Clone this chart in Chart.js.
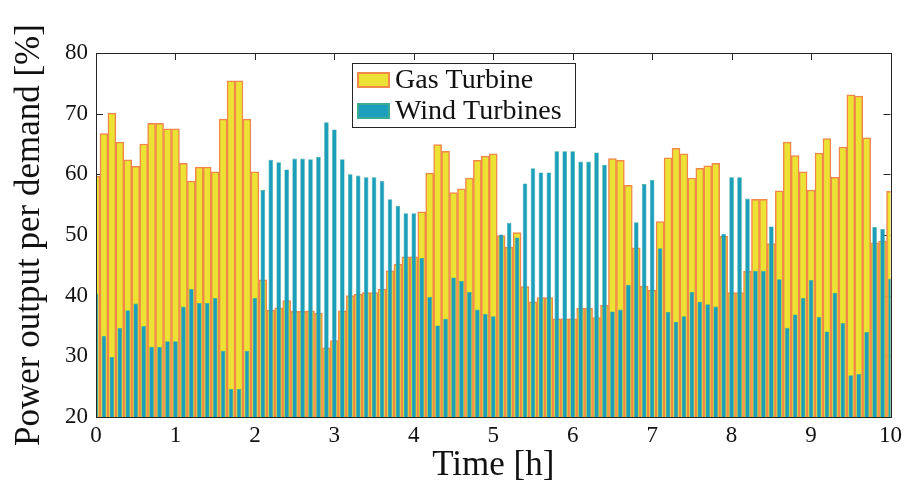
<!DOCTYPE html>
<html>
<head>
<meta charset="utf-8">
<script src="https://cdn.jsdelivr.net/npm/chart.js@4.4.1/dist/chart.umd.min.js"></script>
<style>
  html, body { margin: 0; padding: 0; background: #fff; }
  canvas { display: block; }
</style>
</head>
<body>
<canvas id="chart" width="907" height="493"></canvas>
<script>
// time steps [h]
var times = [
  0.0, 0.1, 0.2, 0.3, 0.4, 0.5, 0.6, 0.7, 0.8, 0.9,
  1.0, 1.1, 1.2, 1.3, 1.4, 1.5, 1.6, 1.7, 1.8, 1.9,
  2.0, 2.1, 2.2, 2.3, 2.4, 2.5, 2.6, 2.7, 2.8, 2.9,
  3.0, 3.1, 3.2, 3.3, 3.4, 3.5, 3.6, 3.7, 3.8, 3.9,
  4.0, 4.1, 4.2, 4.3, 4.4, 4.5, 4.6, 4.7, 4.8, 4.9,
  5.0, 5.1, 5.2, 5.3, 5.4, 5.5, 5.6, 5.7, 5.8, 5.9,
  6.0, 6.1, 6.2, 6.3, 6.4, 6.5, 6.6, 6.7, 6.8, 6.9,
  7.0, 7.1, 7.2, 7.3, 7.4, 7.5, 7.6, 7.7, 7.8, 7.9,
  8.0, 8.1, 8.2, 8.3, 8.4, 8.5, 8.6, 8.7, 8.8, 8.9,
  9.0, 9.1, 9.2, 9.3, 9.4, 9.5, 9.6, 9.7, 9.8, 9.9,
  10.0
];

// gas turbine output [% of demand]
var gasOutput = [
  59.7, 66.7, 70.1, 65.3, 62.4, 61.3, 65.0, 68.4, 68.4, 67.5,
  67.5, 61.8, 58.9, 61.2, 61.2, 60.4, 69.1, 75.4, 75.4, 69.1,
  60.4, 42.6, 37.6, 38.0, 39.2, 37.4, 37.4, 37.5, 37.1, 31.4,
  32.6, 37.5, 40.0, 40.2, 40.5, 40.5, 41.1, 44.1, 45.2, 46.4,
  46.4, 53.8, 60.2, 64.9, 63.8, 57.0, 57.6, 59.4, 62.3, 63.0,
  63.4, 49.9, 48.0, 50.4, 41.5, 39.0, 39.7, 39.7, 36.2, 36.2,
  36.2, 37.9, 37.9, 36.4, 38.4, 62.6, 62.3, 58.2, 47.9, 41.6,
  40.9, 52.2, 62.7, 64.3, 63.4, 59.4, 61.0, 61.4, 61.8, 49.8,
  40.5, 40.5, 44.0, 55.9, 55.9, 48.6, 57.3, 65.3, 63.1, 60.4,
  57.4, 63.5, 65.9, 59.5, 64.5, 73.1, 72.9, 66.0, 48.7, 49.0,
  57.2
];

// wind turbines output [% of demand]
var windOutput = [
  40.3, 33.4, 29.9, 34.7, 37.6, 38.7, 35.0, 31.6, 31.6, 32.5,
  32.5, 38.2, 41.1, 38.8, 38.8, 39.6, 30.9, 24.6, 24.6, 30.9,
  39.6, 57.4, 62.4, 62.0, 60.8, 62.6, 62.6, 62.5, 62.9, 68.6,
  67.4, 62.5, 60.0, 59.8, 59.5, 59.5, 58.9, 55.9, 54.8, 53.6,
  53.6, 46.2, 39.8, 35.1, 36.2, 43.0, 42.4, 40.6, 37.7, 37.0,
  36.6, 50.1, 52.0, 49.6, 58.5, 61.0, 60.3, 60.3, 63.8, 63.8,
  63.8, 62.1, 62.1, 63.6, 61.6, 37.4, 37.7, 41.8, 52.1, 58.4,
  59.1, 47.8, 37.3, 35.7, 36.6, 40.6, 39.0, 38.6, 38.2, 50.2,
  59.5, 59.5, 56.0, 44.1, 44.1, 51.4, 42.7, 34.7, 36.9, 39.6,
  42.6, 36.5, 34.1, 40.5, 35.5, 26.9, 27.1, 34.0, 51.3, 51.0,
  42.8
];

var xTicks = [0, 1, 2, 3, 4, 5, 6, 7, 8, 9, 10];
var yTicks = [20, 30, 40, 50, 60, 70, 80];

var serif = '"Liberation Serif", "DejaVu Serif", serif';
var axisColor = '#262626';

function points(values) {
  return times.map(function (t, i) { return { x: t, y: values[i] }; });
}

// MATLAB style box with inward ticks
var frame = {
  id: 'frame',
  beforeDatasetsDraw: function (chart) {
    var ctx = chart.ctx, a = chart.chartArea;
    var x = chart.scales.x, y = chart.scales.y;
    ctx.save();
    ctx.strokeStyle = axisColor;
    ctx.lineWidth = 1;
    ctx.beginPath();
    xTicks.forEach(function (v) {
      var px = Math.round(x.getPixelForValue(v)) + 0.5;
      ctx.moveTo(px, a.bottom); ctx.lineTo(px, a.bottom - 7);
      ctx.moveTo(px, a.top); ctx.lineTo(px, a.top + 7);
    });
    yTicks.forEach(function (v) {
      var py = Math.round(y.getPixelForValue(v)) + 0.5;
      ctx.moveTo(a.left, py); ctx.lineTo(a.left + 7, py);
      ctx.moveTo(a.right, py); ctx.lineTo(a.right - 7, py);
    });
    ctx.stroke();
    ctx.restore();
  },
  afterDatasetsDraw: function (chart) {
    var ctx = chart.ctx, a = chart.chartArea;
    ctx.save();
    ctx.strokeStyle = axisColor;
    ctx.lineWidth = 1;
    ctx.strokeRect(Math.round(a.left) + 0.5, Math.round(a.top) + 0.5,
      Math.round(a.width), Math.round(a.height));
    ctx.restore();
  }
};

// boxed legend inside the axes
var legendBox = {
  id: 'legendBox',
  afterDraw: function (chart) {
    var ctx = chart.ctx, a = chart.chartArea;
    var left = a.left + 256, top = a.top + 10, w = 223, h = 64;
    ctx.save();
    ctx.fillStyle = '#ffffff';
    ctx.fillRect(left, top, w, h);
    ctx.strokeStyle = axisColor;
    ctx.lineWidth = 1;
    ctx.strokeRect(left + 0.5, top + 0.5, w, h);
    chart.data.datasets.forEach(function (ds, i) {
      var cy = top + 17 + i * 31;
      ctx.fillStyle = ds.backgroundColor;
      ctx.fillRect(left + 5, cy - 8, 33, 16);
      ctx.strokeStyle = ds.borderColor;
      ctx.lineWidth = 2;
      ctx.strokeRect(left + 6, cy - 7, 31, 14);
      ctx.fillStyle = '#111111';
      ctx.font = '28px ' + serif;
      ctx.textBaseline = 'middle';
      ctx.fillText(ds.label, left + 43, cy + 1);
    });
    ctx.restore();
  }
};

var ctx = document.getElementById('chart').getContext('2d');
var chart = new Chart(ctx, {
  type: 'bar',
  data: {
    datasets: [{
      label: 'Gas Turbine',
      data: points(gasOutput),
      backgroundColor: '#ece234',
      borderColor: '#f2874a',
      borderWidth: 1.5,
      borderSkipped: 'start',
      barPercentage: 1,
      categoryPercentage: 1,
      grouped: false,
      order: 1
    }, {
      label: 'Wind Turbines',
      data: points(windOutput),
      backgroundColor: '#1b9fbd',
      borderColor: '#3daa92',
      borderWidth: 0.6,
      borderSkipped: 'start',
      barPercentage: 0.58,
      categoryPercentage: 1,
      grouped: false,
      order: 0
    }]
  },
  options: {
    responsive: false,
    animation: false,
    devicePixelRatio: 1,
    layout: { padding: { top: 53, right: 14, left: 0, bottom: 0 } },
    plugins: {
      legend: { display: false },
      tooltip: { enabled: false }
    },
    scales: {
      x: {
        type: 'linear',
        min: 0,
        max: 10,
        offset: false,
        grid: { display: false, drawTicks: false },
        border: { display: false },
        ticks: {
          stepSize: 1,
          padding: 5,
          color: '#111111',
          font: { family: serif, size: 23 }
        },
        title: {
          display: true,
          text: 'Time [h]',
          color: '#111111',
          font: { family: serif, size: 35 },
          padding: { top: 0, bottom: 6 }
        },
        afterFit: function (s) { s.height = 76; }
      },
      y: {
        min: 20,
        max: 80,
        grid: { display: false, drawTicks: false },
        border: { display: false },
        ticks: {
          stepSize: 10,
          padding: 8,
          color: '#111111',
          font: { family: serif, size: 23 }
        },
        title: {
          display: true,
          text: 'Power output per demand [%]',
          color: '#111111',
          font: { family: serif, size: 35 },
          padding: { top: 9, bottom: 0 }
        },
        afterFit: function (s) { s.width = 96; }
      }
    }
  },
  plugins: [frame, legendBox]
});
</script>
</body>
</html>
